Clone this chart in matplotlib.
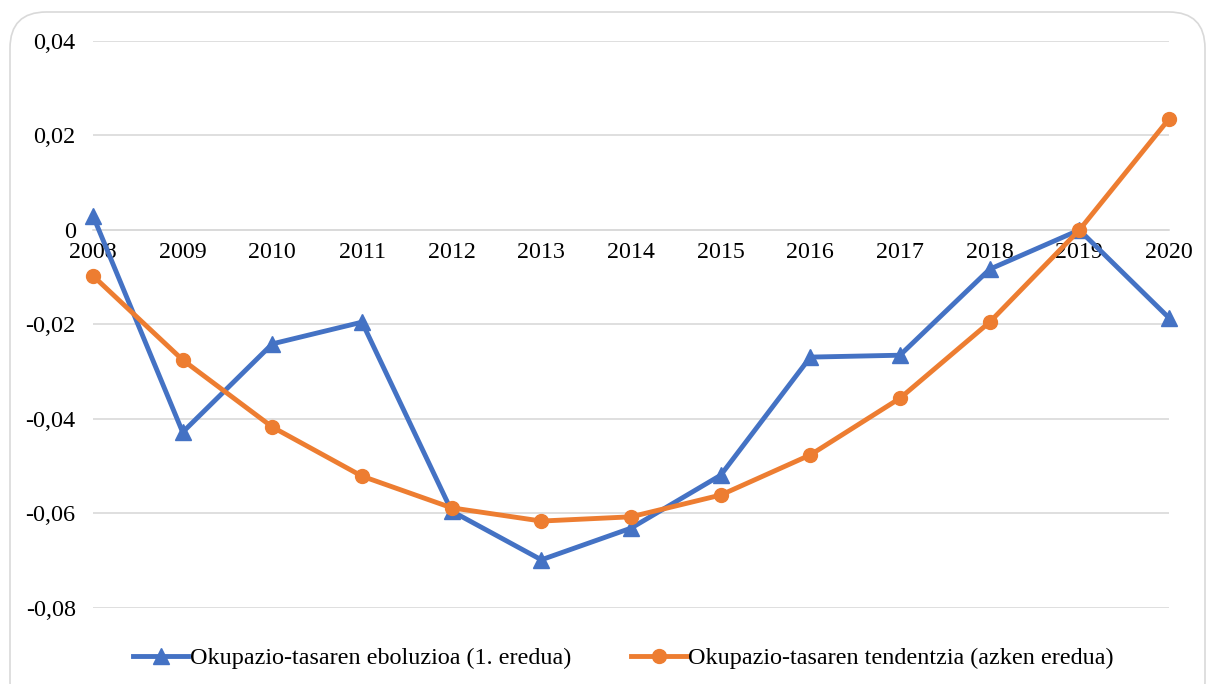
import matplotlib
matplotlib.use("Agg")
import matplotlib.pyplot as plt
from matplotlib.patches import FancyBboxPatch

years = [2008, 2009, 2010, 2011, 2012, 2013, 2014, 2015, 2016, 2017, 2018, 2019, 2020]
evolution = [0.003, -0.0428, -0.0241, -0.0195, -0.0595, -0.0698, -0.0631, -0.0519,
             -0.0269, -0.0265, -0.0083, 0.0, -0.0186]
trend = [-0.0097, -0.0275, -0.0417, -0.0521, -0.0588, -0.0616, -0.0607, -0.0561,
         -0.0476, -0.0356, -0.0195, 0.0, 0.0235]
yticks = [0.04, 0.02, 0.0, -0.02, -0.04, -0.06, -0.08]
ytick_labels = ["0,04", "0,02", "0", "-0,02", "-0,04", "-0,06", "-0,08"]
label_evo = "Okupazio-tasaren eboluzioa (1. eredua)"
label_trend = "Okupazio-tasaren tendentzia (azken eredua)"

plt.rcParams['font.family'] = ['Liberation Serif', 'DejaVu Serif']

fig = plt.figure(figsize=(12.1, 6.84), dpi=100)
ax = fig.add_axes([93/1210, 1 - 608/684, (1169-93)/1210, (608-41)/684])

# rounded border
border = FancyBboxPatch((10/1210, -0.05), (1195/1210), (1 - 12/684) + 0.05,
                        boxstyle="round,pad=0,rounding_size=0.03",
                        transform=fig.transFigure, facecolor='none',
                        edgecolor='#d9d9d9', linewidth=1.2, mutation_aspect=1210/684)
fig.patches.append(border)

ax.set_xlim(2008, 2020)
ax.set_ylim(-0.08, 0.04)
for s in ['top', 'right', 'left']:
    ax.spines[s].set_visible(False)
ax.spines['bottom'].set_position(('data', 0))
ax.spines['bottom'].set_color('#d9d9d9')
ax.spines['bottom'].set_linewidth(1.2)

ax.set_yticks(yticks)
ax.set_yticklabels(ytick_labels, fontsize=17.5)
ax.set_xticks(years)
ax.set_xticklabels([str(y) for y in years], fontsize=17.3)
ax.tick_params(axis='both', length=0)
ax.tick_params(axis='y', pad=12.5)
ax.tick_params(axis='x', pad=9)
ax.grid(axis='y', color='#d9d9d9', linewidth=1.2)
ax.set_axisbelow(True)

ax.plot(years, evolution, color='#4472C4', lw=3.5, marker='^', ms=11,
        label=label_evo, zorder=4, clip_on=False)
ax.plot(years, trend, color='#ED7D31', lw=3.5, marker='o', ms=10,
        label=label_trend, zorder=5, clip_on=False)

leg = fig.legend(loc='center', bbox_to_anchor=(0.515, 1 - 658/684), ncol=2,
                 frameon=False, fontsize=17.4, handlelength=2.3, handletextpad=0.05,
                 columnspacing=2.5)

fig.savefig("out.png", dpi=100)
